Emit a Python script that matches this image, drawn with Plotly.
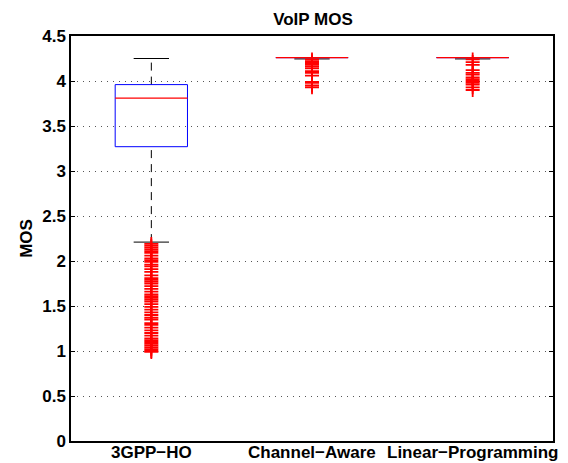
import plotly.graph_objects as go

# Box statistics per handover scheme
categories = ["3GPP\u2212HO", "Channel\u2212Aware", "Linear\u2212Programming"]
q1 = [3.27, 4.26, 4.26]
median = [3.81, 4.26, 4.26]
q3 = [3.96, 4.26, 4.26]
lower_whisker = [2.21, 4.245, 4.245]
upper_whisker = [4.25, 4.26, 4.26]

# Outlying MOS samples
outliers_3gpp = [2.19, 2.17, 2.15, 2.13, 2.11, 2.09, 2.06, 2.03, 2.01, 1.99,
                 1.96, 1.94, 1.91, 1.88, 1.84, 1.81, 1.79, 1.77, 1.75, 1.72,
                 1.69, 1.66, 1.63, 1.61, 1.59, 1.57, 1.55, 1.52, 1.49, 1.46,
                 1.43, 1.40, 1.37, 1.35, 1.31, 1.29, 1.26, 1.23, 1.20, 1.17,
                 1.14, 1.12, 1.10, 1.08, 1.06, 1.04, 1.02, 1.00, 0.99]
outliers_ca = [4.24, 4.22, 4.20, 4.18, 4.16, 4.14, 4.11, 4.09, 4.06, 3.99,
               3.98, 3.95, 3.93]
outliers_lp = [4.24, 4.21, 4.18, 4.12, 4.09, 4.07, 4.04, 4.02, 4.00, 3.98,
               3.96, 3.93, 3.90]
outliers = [outliers_3gpp, outliers_ca, outliers_lp]

y_ticks = [0, 0.5, 1, 1.5, 2, 2.5, 3, 3.5, 4, 4.5]
y_tick_text = ["0", "0.5", "1", "1.5", "2", "2.5", "3", "3.5", "4", "4.5"]

BOX_HALF = 0.225
CAP_HALF = 0.11
FONT = "Liberation Sans"

fig = go.Figure()

for i in range(len(categories)):
    c = i + 1
    # dashed whiskers
    for a, b in [(q3[i], upper_whisker[i]), (lower_whisker[i], q1[i])]:
        fig.add_trace(go.Scatter(x=[c, c], y=[a, b], mode="lines",
                                 line=dict(color="black", width=1, dash="8px,6px"),
                                 hoverinfo="skip", showlegend=False))
    # whisker caps
    for w in [upper_whisker[i], lower_whisker[i]]:
        fig.add_trace(go.Scatter(x=[c - CAP_HALF, c + CAP_HALF], y=[w, w], mode="lines",
                                 line=dict(color="black", width=1),
                                 hoverinfo="skip", showlegend=False))
    # box
    fig.add_trace(go.Scatter(
        x=[c - BOX_HALF, c + BOX_HALF, c + BOX_HALF, c - BOX_HALF, c - BOX_HALF],
        y=[q1[i], q1[i], q3[i], q3[i], q1[i]], mode="lines",
        line=dict(color="#0000ff", width=1), hoverinfo="skip", showlegend=False))
    # median
    fig.add_trace(go.Scatter(x=[c - BOX_HALF, c + BOX_HALF], y=[median[i], median[i]],
                             mode="lines", line=dict(color="#ff0000", width=1.2),
                             hoverinfo="skip", showlegend=False))
    # outliers
    fig.add_trace(go.Scatter(x=[c] * len(outliers[i]), y=outliers[i], mode="markers",
                             marker=dict(symbol="cross-thin", size=10,
                                         line=dict(color="#ff0000", width=1.8)),
                             showlegend=False))

# group labels under each box
for i, name in enumerate(categories):
    fig.add_annotation(x=i + 1, y=0, xref="x", yref="paper", text=name,
                       showarrow=False, xanchor="center", yanchor="top",
                       yshift=0,
                       font=dict(family=FONT, size=17, color="black", weight="bold"))

fig.update_layout(
    width=568, height=463,
    margin=dict(l=71, r=15, t=36, b=22),
    paper_bgcolor="white", plot_bgcolor="white",
    font=dict(family=FONT, size=17, color="black", weight="bold"),
    title=dict(text="VoIP MOS", xref="container", x=0.551, xanchor="center",
               yref="container", y=0.959, yanchor="middle",
               font=dict(size=17, weight="bold")),
)
fig.update_xaxes(range=[0.5, 3.5], showgrid=False, zeroline=False,
                 showline=True, mirror=True, linecolor="black", linewidth=1.5,
                 showticklabels=False, ticks="")
fig.update_yaxes(range=[0, 4.5], tickvals=y_ticks, ticktext=y_tick_text,
                 showgrid=True, gridcolor="#555555", griddash="1px,5px", gridwidth=1,
                 zeroline=False, showline=True, mirror="ticks", linecolor="black",
                 linewidth=1.5, ticks="inside", ticklen=4, tickcolor="black",
                 title=dict(text="MOS", standoff=5, font=dict(size=17, weight="bold")))

fig.write_html("out.html")
